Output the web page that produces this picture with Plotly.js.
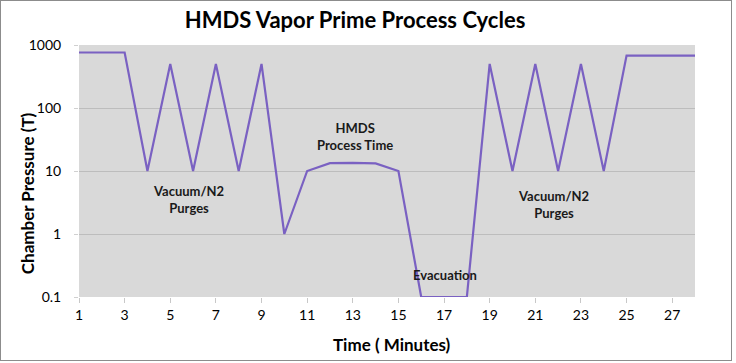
<!DOCTYPE html>
<html>
<head>
<meta charset="utf-8">
<script src="https://cdn.plot.ly/plotly-3.0.1.min.js"></script>
<style>
html,body{margin:0;padding:0;background:#fff;}
#wrap{position:absolute;left:0;top:0;width:732px;height:361px;box-sizing:border-box;border:1px solid #8c8c8c;}
#chart{width:730px;height:359px;}
</style>
</head>
<body>
<div id="wrap"><div id="chart"></div></div>
<script>
const minutes = [1,2,3,4,5,6,7,8,9,10,11,12,13,14,15,16,17,18,19,20,21,22,23,24,25,26,27,28];
const pressure = [760,760,760,10,500,10,500,10,500,1,10,13.3,13.5,13.2,10,0.1,0.1,0.1,500,10,500,10,500,10,680,680,680,680];
const xTicks = [1,3,5,7,9,11,13,15,17,19,21,23,25,27];
const yTicks = [0.1,1,10,100,1000];
const yTickText = ['0.1','1','10','100','1000'];
const labels = [
  {text:'Vacuum/N2<br>Purges', x:5.78, y:3.55},
  {text:'HMDS<br>Process Time', x:13.1, y:35.5},
  {text:'Evacuation', x:17.05, y:0.22},
  {text:'Vacuum/N2<br>Purges', x:21.8, y:2.95}
];

const font = 'Lato, "Open Sans", sans-serif';

const trace = {
  x: minutes, y: pressure, type:'scatter', mode:'lines',
  line:{color:'#7a61c2', width:2.2}, hoverinfo:'skip', showlegend:false
};

const annots = labels.map(a => ({
  text:'<b>'+a.text+'</b>', x:a.x, y:Math.log10(a.y), xref:'x', yref:'y',
  showarrow:false, font:{family:font, size:13, color:'#1a1a1a'}, align:'center'
}));
// axis titles placed as paper annotations (plot area: 616 x 252.5 px)
annots.push({text:'<b>Chamber Pressure (T)</b>', textangle:-90, xref:'paper', yref:'paper',
  x:(27-79)/616, y:(297-193)/252.5, xanchor:'center', yanchor:'middle', showarrow:false,
  font:{family:font, size:17, color:'#000'}});
annots.push({text:'<b>Time ( Minutes)</b>', xref:'paper', yref:'paper',
  x:(392-79)/616, y:(297-345)/252.5, xanchor:'center', yanchor:'middle', showarrow:false,
  font:{family:font, size:17, color:'#000'}});

const layout = {
  width:730, height:359,
  margin:{l:78, r:36, t:43.5, b:63},
  paper_bgcolor:'#ffffff',
  plot_bgcolor:'#d9d9d9',
  font:{family:font, color:'#000'},
  title:{text:'<b>HMDS Vapor Prime Process Cycles</b>', x:0.485, xanchor:'center', y:0.945, yanchor:'middle',
         font:{family:font, size:22, color:'#000'}},
  xaxis:{
    range:[1,28], tickvals:xTicks, ticktext:xTicks.map(String),
    showgrid:false, zeroline:false, showline:false,
    ticks:'outside', ticklen:5, tickcolor:'#c8c8c8', tickwidth:1,
    tickfont:{family:font, size:14, color:'#000'}
  },
  yaxis:{
    type:'log', range:[-1,3], tickvals:yTicks, ticktext:yTickText,
    showgrid:true, gridcolor:'#bdbdbd', gridwidth:1, zeroline:false, showline:false,
    ticks:'outside', ticklen:4, tickcolor:'#d0d0d0', ticklabelstandoff:10,
    tickfont:{family:font, size:14, color:'#000'}
  },
  annotations: annots
};

Plotly.newPlot('chart', [trace], layout, {displayModeBar:false, staticPlot:true});
</script>
</body>
</html>
